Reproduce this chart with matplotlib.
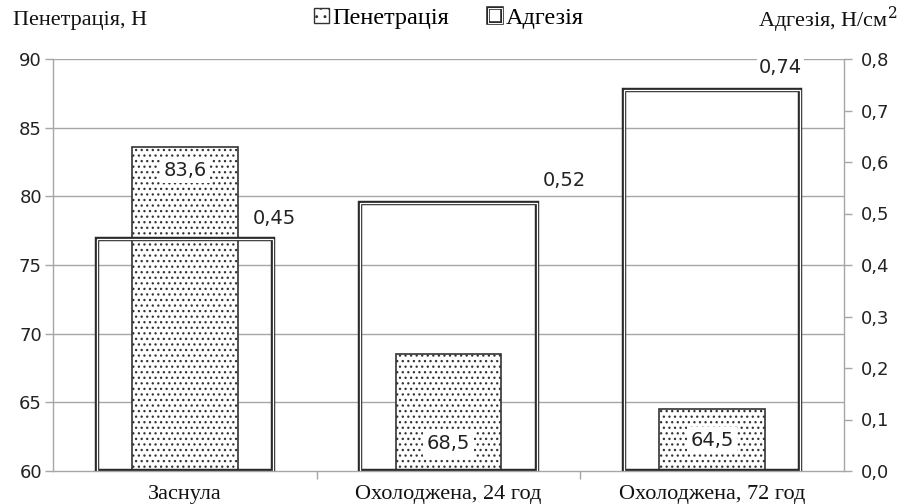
import matplotlib
matplotlib.use("Agg")
import matplotlib.pyplot as plt
from matplotlib.patches import Patch, Rectangle
from matplotlib.legend_handler import HandlerBase
import numpy as np

categories = ["Заснула", "Охолоджена, 24 год", "Охолоджена, 72 год"]
penetration = [83.6, 68.5, 64.5]
adhesion = [0.45, 0.52, 0.74]
pen_ticks = [60, 65, 70, 75, 80, 85, 90]
adh_ticks = [0.0, 0.1, 0.2, 0.3, 0.4, 0.5, 0.6, 0.7, 0.8]

serif = ["Liberation Serif", "DejaVu Serif"]
sans = "DejaVu Sans"
grid_c = "#a6a6a6"
edge_c = "#333333"

plt.rcParams["hatch.linewidth"] = 0.9
plt.rcParams["hatch.color"] = "#5a5a5a"

fig = plt.figure(figsize=(8.99, 5.04), dpi=100)
ax = fig.add_axes([53 / 899, 33 / 504, 791 / 899, 412 / 504])
ax2 = ax.twinx()

x = np.arange(len(categories))
ax.set_xlim(-0.5, len(categories) - 0.5)
ax.set_ylim(60, 90)
ax2.set_ylim(0, 0.8)

# grid lines from the penetration axis
for t in pen_ticks[1:]:
    ax.axhline(t, color=grid_c, lw=1.0, zorder=0)

# penetration bars with dotted fill
ax.bar(x, np.array(penetration) - 60, bottom=60, width=0.4, color="white",
       edgecolor=edge_c, linewidth=1.2, hatch="...", zorder=2)

# adhesion bars: double outline, no fill, on top
ax2.bar(x, adhesion, width=0.67, fill=False, edgecolor="#2a2a2a",
        linewidth=3.2, zorder=3)
ax2.bar(x, adhesion, width=0.67, fill=False, edgecolor="white",
        linewidth=0.9, zorder=4)

# penetration value labels
pen_label_y = [81.9, 62.0, 62.25]
for xi, v, ly in zip(x, penetration, pen_label_y):
    ax.text(xi, ly, f"{v:.1f}".replace(".", ","), ha="center", va="center",
            fontsize=14, family=sans, color="#222222", zorder=5,
            bbox=dict(facecolor="white", edgecolor="none", pad=2.5))

# adhesion value labels
adh_label_dx = [0.34, 0.44, 0.26]
adh_label_dy = [0.04, 0.045, 0.043]
for xi, v, dx, dy in zip(x, adhesion, adh_label_dx, adh_label_dy):
    ax2.text(xi + dx, v + dy, f"{v:.2f}".replace(".", ","), ha="center",
             va="center", fontsize=14, family=sans, color="#222222", zorder=6,
             bbox=dict(facecolor="white", edgecolor="none", pad=1.5))

# axes styling
for a in (ax, ax2):
    a.spines["top"].set_visible(False)
    for s in ("left", "right", "bottom"):
        a.spines[s].set_color(grid_c)
        a.spines[s].set_linewidth(1.0)
ax.spines["right"].set_visible(False)
ax2.spines["left"].set_visible(False)
ax2.spines["bottom"].set_visible(False)

ax.set_yticks(pen_ticks)
ax.set_yticklabels([str(t) for t in pen_ticks], fontsize=13, family=sans,
                   color="#222222")
ax.tick_params(axis="y", length=6, width=1.0, color=grid_c, pad=2)

ax2.set_yticks(adh_ticks)
ax2.set_yticklabels([f"{t:.1f}".replace(".", ",") for t in adh_ticks],
                    fontsize=13, family=sans, color="#222222")
ax2.tick_params(axis="y", length=6, width=1.0, color=grid_c, pad=6)

ax.set_xticks([0.5, 1.5])
ax.set_xticklabels([])
ax.tick_params(axis="x", length=6, width=1.0, color=grid_c)
for xi, c in zip(x, categories):
    ax.text(xi, -0.034, c, transform=ax.get_xaxis_transform(), ha="center",
            va="top", fontsize=16, family=serif, color="#111111")

# axis titles
fig.text(13 / 899, 1 - 20 / 504, "Пенетрація, Н", ha="left", va="center",
         fontsize=16, family=serif, color="#111111")
fig.text(897 / 899, 1 - 20 / 504, "Адгезія, Н/см$^2$", ha="right",
         va="center", fontsize=16, family=serif, color="#111111",
         math_fontfamily="dejavuserif")


class DoubleBoxHandler(HandlerBase):
    def create_artists(self, legend, orig_handle, xdescent, ydescent, width,
                       height, fontsize, trans):
        s = min(width, height)
        x0 = xdescent + (width - s) / 2
        outer = Rectangle((x0, -ydescent), s, s, fill=False,
                          edgecolor="#2a2a2a", lw=2.6, transform=trans)
        inner = Rectangle((x0, -ydescent), s, s, fill=False,
                          edgecolor="white", lw=0.7, transform=trans)
        return [outer, inner]


class HatchBoxHandler(HandlerBase):
    def create_artists(self, legend, orig_handle, xdescent, ydescent, width,
                       height, fontsize, trans):
        s = min(width, height)
        x0 = xdescent + (width - s) / 2
        r = Rectangle((x0, -ydescent), s, s, facecolor="white",
                      edgecolor=edge_c, lw=1.0, hatch="..", transform=trans)
        return [r]


h_pen = Patch(label="Пенетрація")
h_adh = Patch(label="Адгезія")
leg = fig.legend([h_pen, h_adh], ["Пенетрація", "Адгезія"],
                 handler_map={h_pen: HatchBoxHandler(), h_adh: DoubleBoxHandler()},
                 loc="center", bbox_to_anchor=(449 / 899, 1 - 18 / 504), ncol=2,
                 frameon=False, prop={"family": serif, "size": 17.5},
                 handlelength=0.6, handleheight=0.6, handletextpad=0.15,
                 columnspacing=1.6)

fig.savefig("out.png", dpi=100)
